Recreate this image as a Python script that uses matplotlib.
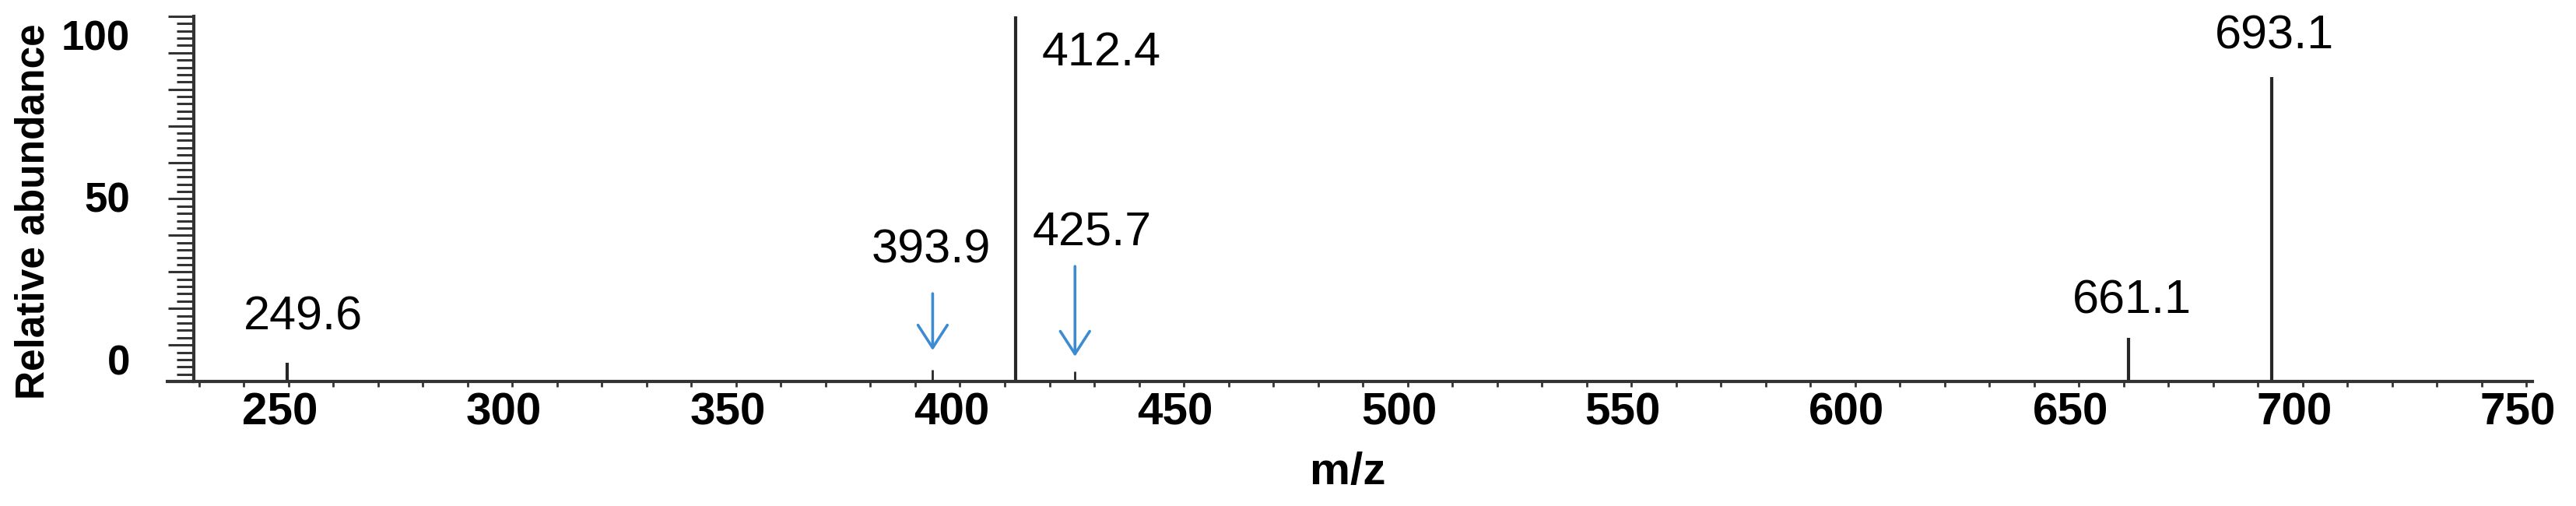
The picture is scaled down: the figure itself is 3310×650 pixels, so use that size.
import numpy as np
import matplotlib
matplotlib.use('Agg')
import matplotlib.pyplot as plt
import matplotlib.transforms as mtransforms
from matplotlib.ticker import MultipleLocator, FixedLocator

# peaks (y in axis units, baseline sits at y_base)
peak_mz = [249.6, 412.4, 661.1, 693.1]
peak_top = [0.2, 107.0, 7.9, 88.3]

# tiny stubs under the blue arrows
stub_mz = [393.9, 425.7]
stub_top = [-1.9, -2.4]

label_text = ['249.6', '393.9', '412.4', '425.7', '661.1', '693.1']
label_x = [253.3, 393.6, 431.6, 429.6, 661.8, 693.7]
label_y = [14.3, 34.9, 95.6, 40.1, 19.2, 100.7]

arrow_mz = [393.9, 425.7]
arrow_from = [21.6, 30.0]
arrow_to = [4.1, 2.2]

y_labels = [0, 50, 100]
x_labels = [250, 300, 350, 400, 450, 500, 550, 600, 650, 700, 750]

y_base = -5.5
y_top = 107.1
x_min, x_max = 228.8, 751.4

plt.rcParams['font.family'] = ['Liberation Sans', 'DejaVu Sans']

fig = plt.figure(figsize=(33.1, 6.5), dpi=100)
ax = fig.add_axes([0.0752, 0.246, 0.908, 0.722])

ax.vlines(peak_mz, y_base, peak_top, color='#262626', lw=3)
ax.vlines(stub_mz, y_base, stub_top, color='#262626', lw=2)

for t, x, y in zip(label_text, label_x, label_y):
    ax.text(x, y, t, ha='center', va='center', fontsize=44, color='black')

for x, y0, y1 in zip(arrow_mz, arrow_from, arrow_to):
    ax.annotate('', xy=(x, y1), xytext=(x, y0),
                arrowprops=dict(arrowstyle='->,head_length=1.05,head_width=0.68',
                                color='#3d8cd2', lw=2.6, shrinkA=0, shrinkB=0,
                                mutation_scale=20))

ax.set_xlim(x_min, x_max)
ax.set_ylim(y_base, y_top)

for s in ['top', 'right']:
    ax.spines[s].set_visible(False)
for s in ['left', 'bottom']:
    ax.spines[s].set_color('#333333')
    ax.spines[s].set_linewidth(3)

# x axis extends a bit left past the y axis
ax.plot([-0.012, 0], [0, 0], transform=ax.transAxes, color='#333333', lw=3,
        clip_on=False, solid_capstyle='butt')

# x ticks: every 10, labels every 50 (labels sit a little left of their tick)
ax.set_xticks(x_labels)
ax.set_xticklabels([str(v) for v in x_labels], fontsize=42, fontweight='bold')
ax.xaxis.set_minor_locator(MultipleLocator(10))
ax.tick_params(axis='x', which='both', direction='out', length=5, width=2,
               color='#333333', pad=5)
shift = mtransforms.ScaledTranslation(-11 / 100, 0, fig.dpi_scale_trans)
for lab in ax.get_xticklabels():
    lab.set_transform(lab.get_transform() + shift)

# y ticks: 10 long intervals over the whole axis, 5 short ones in each
ax.yaxis.set_major_locator(FixedLocator(np.linspace(y_base, y_top, 11)))
ax.yaxis.set_minor_locator(FixedLocator(np.linspace(y_base, y_top, 51)))
ax.tick_params(axis='y', which='major', direction='out', length=24, width=2.2,
               color='#333333', labelleft=False)
ax.tick_params(axis='y', which='minor', direction='out', length=16, width=2.2,
               color='#333333')
ytrans = mtransforms.blended_transform_factory(ax.transAxes, ax.transData)
for v in y_labels:
    ax.text(-0.0273, v, str(v), transform=ytrans, ha='right', va='center',
            fontsize=38, fontweight='bold')

ax.set_xlabel('m/z', fontsize=42, fontweight='bold')
ax.xaxis.set_label_coords(0.4935, -0.192)
ax.set_ylabel('Relative abundance', fontsize=37, fontweight='bold')
ax.yaxis.set_label_coords(-0.0602, 0.465)

fig.savefig('out.png', dpi=100)
